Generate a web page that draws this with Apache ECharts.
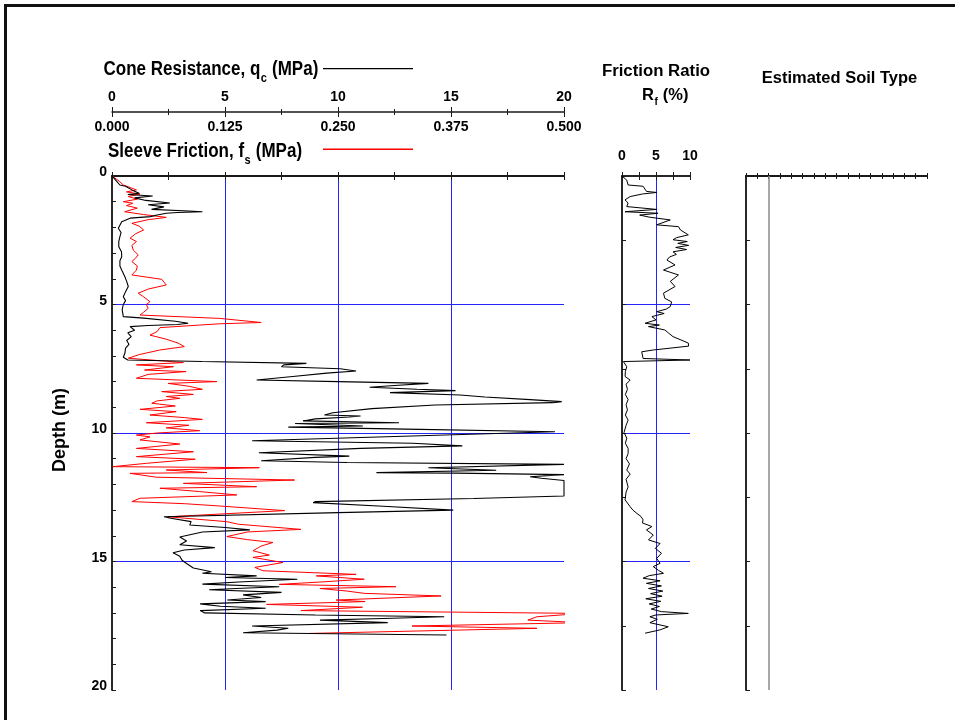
<!DOCTYPE html>
<html>
<head>
<meta charset="utf-8">
<script src="https://cdn.jsdelivr.net/npm/echarts@6/dist/echarts.min.js"></script>
<style>
  html, body { margin: 0; padding: 0; background: #fff; }
  #chart { width: 955px; height: 720px; }
</style>
</head>
<body>
<div id="chart"></div>
<script>
// ---- CPT sounding data (depth in m) ----
const qcDepth = [0.00,0.20,0.35,0.40,0.55,0.67,0.72,0.78,0.85,0.95,1.05,1.12,1.20,1.30,1.36,1.39,1.42,1.45,1.52,1.58,1.64,1.78,2.03,2.20,2.36,2.55,2.75,2.95,3.14,3.30,3.50,3.70,3.92,4.10,4.30,4.50,4.70,4.85,5.00,5.20,5.47,5.53,5.65,5.73,5.78,5.82,5.86,6.00,6.10,6.25,6.40,6.55,6.70,6.90,7.05,7.16,7.22,7.29,7.35,7.42,7.50,7.59,7.67,7.80,7.94,8.00,8.07,8.15,8.22,8.30,8.35,8.43,8.52,8.60,8.70,8.78,8.82,8.91,9.05,9.21,9.30,9.34,9.38,9.45,9.53,9.60,9.63,9.73,9.77,9.85,9.95,10.10,10.30,10.40,10.50,10.60,10.77,10.90,10.95,11.08,11.15,11.22,11.28,11.35,11.45,11.54,11.56,11.62,11.70,11.76,11.85,12.10,12.45,12.55,12.67,12.71,12.85,13.00,13.10,13.26,13.32,13.45,13.58,13.68,13.77,13.85,14.05,14.20,14.35,14.46,14.55,14.66,14.80,14.95,15.08,15.25,15.40,15.46,15.56,15.62,15.69,15.80,15.88,15.98,16.05,16.10,16.20,16.30,16.40,16.50,16.56,16.65,16.74,16.82,16.91,17.00,17.08,17.15,17.22,17.28,17.38,17.51,17.60,17.67,17.77,17.86];
// Cone resistance q_c (MPa)
const qcValue = [0.0,0.2,0.35,0.6,0.9,1.2,0.7,1.8,1.0,1.5,2.56,1.6,2.3,1.75,3.4,4.0,2.9,2.4,2.0,1.7,0.8,0.43,0.28,0.4,0.35,0.3,0.3,0.42,0.43,0.35,0.35,0.45,0.57,0.65,0.72,0.6,0.5,0.6,0.5,0.45,0.5,1.4,2.8,3.37,2.9,1.6,0.8,1.0,0.7,0.85,0.65,0.75,0.6,0.57,0.5,0.7,4.0,8.6,7.6,7.5,10.1,10.8,9.5,8.0,6.4,10.0,14.0,12.5,11.4,13.5,15.2,12.3,15.4,16.5,18.5,19.9,19.5,14.3,11.5,9.77,9.4,11.0,10.5,9.0,8.45,12.7,8.1,11.1,7.8,13.0,19.6,14.0,6.2,13.3,15.5,11.0,6.5,10.5,9.0,6.6,10.4,20.0,20.0,14.0,17.0,11.7,15.2,20.0,18.5,19.0,20.0,20.0,20.0,16.0,9.0,8.9,12.0,15.1,10.0,2.3,2.6,3.5,3.44,5.0,6.1,4.0,3.0,3.3,3.0,4.55,3.2,2.7,3.0,3.1,3.3,3.6,4.4,4.0,6.4,5.0,8.2,5.6,4.0,7.4,5.5,4.3,7.5,5.8,6.6,5.1,6.8,3.9,4.8,6.8,3.9,4.1,9.0,14.7,12.0,9.2,12.2,6.2,7.8,7.3,5.8,14.8];

const fsDepth = [0.00,0.20,0.35,0.54,0.62,0.67,0.70,0.80,0.90,1.00,1.06,1.15,1.25,1.39,1.50,1.61,1.70,1.84,1.95,2.10,2.25,2.42,2.55,2.70,2.88,3.07,3.20,3.33,3.50,3.66,3.85,4.02,4.24,4.40,4.56,4.70,4.89,5.00,5.15,5.30,5.41,5.54,5.70,5.75,5.80,5.90,6.05,6.19,6.35,6.50,6.64,6.77,6.95,7.09,7.26,7.35,7.42,7.55,7.61,7.72,7.87,8.00,8.07,8.18,8.30,8.39,8.50,8.58,8.65,8.75,8.84,8.95,9.08,9.17,9.30,9.40,9.47,9.60,9.70,9.80,9.91,10.00,10.08,10.15,10.27,10.43,10.60,10.73,10.85,10.92,11.02,11.18,11.31,11.35,11.44,11.54,11.57,11.72,11.83,11.96,12.09,12.15,12.28,12.41,12.54,12.67,12.75,12.84,13.02,13.26,13.45,13.55,13.75,13.85,14.03,14.15,14.26,14.40,14.58,14.75,14.84,15.04,15.23,15.36,15.50,15.56,15.69,15.80,15.89,15.98,16.05,16.15,16.24,16.34,16.50,16.56,16.67,16.78,16.91,17.02,17.15,17.28,17.38,17.51,17.60,17.80];
// Sleeve friction f_s (MPa)
const fsValue = [0.000,0.008,0.0125,0.027,0.016,0.014,0.031,0.018,0.028,0.0125,0.023,0.016,0.028,0.014,0.035,0.060,0.040,0.022,0.030,0.035,0.026,0.020,0.027,0.022,0.0235,0.029,0.026,0.022,0.028,0.027,0.022,0.055,0.060,0.040,0.029,0.035,0.042,0.038,0.040,0.035,0.031,0.119,0.165,0.120,0.097,0.053,0.050,0.042,0.060,0.073,0.080,0.053,0.030,0.018,0.079,0.027,0.068,0.036,0.082,0.040,0.027,0.116,0.062,0.085,0.100,0.055,0.090,0.060,0.075,0.050,0.044,0.070,0.031,0.071,0.042,0.080,0.100,0.038,0.085,0.060,0.097,0.050,0.027,0.042,0.031,0.075,0.027,0.090,0.050,0.027,0.092,0.038,0.001,0.163,0.060,0.105,0.020,0.049,0.202,0.079,0.160,0.053,0.097,0.138,0.031,0.022,0.080,0.119,0.191,0.062,0.127,0.140,0.209,0.150,0.127,0.150,0.178,0.165,0.156,0.174,0.156,0.189,0.158,0.167,0.270,0.226,0.279,0.230,0.185,0.314,0.230,0.260,0.279,0.364,0.248,0.280,0.171,0.277,0.209,0.520,0.470,0.460,0.520,0.332,0.470,0.217];

const rfDepth = [0.00,0.16,0.35,0.40,0.60,0.64,0.70,0.80,0.93,1.05,1.19,1.30,1.39,1.45,1.52,1.60,1.71,1.90,1.97,2.10,2.29,2.40,2.48,2.55,2.62,2.70,2.78,2.86,2.95,3.05,3.15,3.27,3.46,3.66,3.85,4.10,4.30,4.56,4.76,4.90,5.08,5.18,5.28,5.35,5.47,5.60,5.73,5.80,5.86,5.99,6.10,6.25,6.50,6.62,6.77,6.84,7.10,7.16,7.22,7.42,7.60,7.80,7.94,8.10,8.30,8.50,8.70,8.90,9.10,9.30,9.50,9.70,9.98,10.20,10.40,10.60,10.80,11.00,11.20,11.44,11.60,11.80,12.10,12.30,12.60,12.87,13.00,13.13,13.25,13.38,13.50,13.64,13.77,13.97,14.16,14.30,14.49,14.68,14.88,15.07,15.20,15.35,15.46,15.55,15.65,15.75,15.85,15.95,16.05,16.15,16.25,16.35,16.45,16.55,16.65,16.75,16.85,16.95,17.02,17.08,17.15,17.25,17.38,17.54,17.66,17.79];
// Friction ratio R_f (%)
const rfValue = [0.0,0.7,0.9,3.1,3.6,5.1,3.0,1.2,0.44,0.9,0.7,5.1,0.44,5.3,2.6,4.0,7.1,5.1,8.3,8.6,9.75,8.0,7.5,9.6,8.2,9.8,7.9,9.5,7.5,8.0,7.0,6.6,7.8,6.1,8.3,7.1,7.8,6.1,6.3,7.3,7.1,6.5,5.1,6.2,4.4,5.0,3.4,5.5,3.9,6.3,6.8,7.5,9.75,9.8,4.6,2.9,3.1,10.0,0.2,0.7,0.5,0.45,1.2,0.6,0.8,0.5,0.9,0.6,0.8,0.5,0.9,0.6,0.3,0.7,0.5,0.9,0.9,0.6,1.1,0.7,1.2,0.6,0.9,0.6,0.45,1.2,1.6,2.2,2.8,3.1,3.0,4.4,3.6,4.6,3.9,5.6,4.9,5.8,5.1,5.6,4.6,5.4,6.1,4.0,3.1,5.6,3.6,5.8,3.9,6.0,4.2,5.9,3.5,5.7,4.0,5.5,4.3,5.8,9.75,5.0,4.1,5.2,4.1,6.8,5.6,3.4];

// Axis ranges
const depthRange = [0, 20];
const qcRange = [0, 20];
const fsRange = [0, 0.5];
const rfRange = [0, 10];
const soilCols = [0, 16];
const soilBoundary = 2;   // soil-type column divider

const BLUE = '#2424ff';
const AXIS = '#1a1a1a';
const RED = '#ff0000';
const FONT = '"Liberation Sans", Arial, sans-serif';

const pairs = (vals, deps) => deps.map((d, i) => [vals[i], d]);

const measureCtx = document.createElement('canvas').getContext('2d');
function textWidth(str, font) { measureCtx.font = font; return measureCtx.measureText(str).width; }

function tickLabel(extra) {
  return Object.assign({ color: '#000', fontFamily: FONT, fontWeight: 'bold', fontSize: 14 }, extra || {});
}
function frameAxis(opts) {
  // plain frame axis: line + ticks, no labels
  return Object.assign({
    type: 'value',
    axisLine: { show: true, lineStyle: { color: AXIS, width: 1.5 } },
    axisTick: { show: true, inside: true, length: 4, lineStyle: { color: AXIS, width: 1 } },
    axisLabel: { show: false },
    splitLine: { show: false }
  }, opts);
}
const blueSplit = { show: true, showMinLine: false, showMaxLine: false, lineStyle: { color: BLUE, width: 1 } };

const chart = echarts.init(document.getElementById('chart'), null, { renderer: 'canvas' });

// subscripted title helper
function subTitle(x, y, scaleX, main, sub, tail, size, subSize, subDy) {
  const f = 'bold ' + size + 'px ' + FONT;
  const fs = 'bold ' + subSize + 'px ' + FONT;
  const w1 = textWidth(main, f);
  const w2 = textWidth(sub, fs);
  const mk = (t, px, py, font) => ({
    type: 'text', x: px, y: py,
    style: { text: t, font: font, fill: '#000', textAlign: 'left', textVerticalAlign: 'middle', align: 'left', verticalAlign: 'middle' }
  });
  return {
    type: 'group', x: x, y: 0, scaleX: scaleX, scaleY: 1,
    children: [mk(main, 0, y, f), mk(sub, w1 + 0.5, y + subDy, fs), mk(tail, w1 + w2 + 1, y, f)]
  };
}

const option = {
  animation: false,
  backgroundColor: '#fff',
  grid: [
    { left: 112, top: 176, width: 452, height: 514, containLabel: false, outerBoundsMode: 'none' },
    { left: 112, top: 111, width: 452, height: 1, containLabel: false, outerBoundsMode: 'none' },
    { left: 622, top: 176, width: 68, height: 514, containLabel: false, outerBoundsMode: 'none' },
    { left: 746, top: 176, width: 181, height: 514, containLabel: false, outerBoundsMode: 'none' }
  ],
  xAxis: [
    frameAxis({ gridIndex: 0, position: 'bottom', min: qcRange[0], max: qcRange[1], interval: 5,
      minorTick: { show: true, splitNumber: 2, length: 4, lineStyle: { color: AXIS } }, splitLine: blueSplit }),
    frameAxis({ gridIndex: 0, position: 'top', min: fsRange[0], max: fsRange[1], interval: 0.125,
      axisLine: { show: true, lineStyle: { color: AXIS, width: 2 } },
      minorTick: { show: true, splitNumber: 2, length: 4, lineStyle: { color: AXIS } } }),
    frameAxis({ gridIndex: 1, position: 'top', min: qcRange[0], max: qcRange[1], interval: 5,
      axisTick: { show: true, inside: false, length: 5, lineStyle: { color: AXIS } },
      minorTick: { show: true, splitNumber: 2, length: 3, lineStyle: { color: AXIS } },
      axisLabel: tickLabel({ show: true, margin: 7, showMinLabel: true, showMaxLabel: true }) }),
    frameAxis({ gridIndex: 1, position: 'bottom', min: fsRange[0], max: fsRange[1], interval: 0.125,
      axisLine: { show: false },
      axisTick: { show: true, inside: false, length: 5, lineStyle: { color: AXIS } },
      minorTick: { show: true, splitNumber: 2, length: 3, lineStyle: { color: AXIS } },
      axisLabel: tickLabel({ show: true, margin: 8, showMinLabel: true, showMaxLabel: true, formatter: v => v.toFixed(3) }) }),
    frameAxis({ gridIndex: 2, position: 'top', min: rfRange[0], max: rfRange[1], interval: 5,
      minorTick: { show: true, splitNumber: 2, length: 4, lineStyle: { color: AXIS } },
      axisLabel: tickLabel({ show: true, margin: 13, showMinLabel: true, showMaxLabel: true }),
      splitLine: blueSplit }),
    frameAxis({ gridIndex: 2, position: 'bottom', min: rfRange[0], max: rfRange[1], interval: 5,
      minorTick: { show: true, splitNumber: 2, length: 4, lineStyle: { color: AXIS } } }),
    frameAxis({ gridIndex: 3, position: 'top', min: soilCols[0], max: soilCols[1], interval: 1,
      axisLine: { show: true, lineStyle: { color: AXIS, width: 2 } },
      axisTick: { show: true, inside: true, length: 3, lineStyle: { color: AXIS } } }),
    frameAxis({ gridIndex: 3, position: 'bottom', min: soilCols[0], max: soilCols[1], interval: 1,
      axisLine: { show: true, lineStyle: { color: AXIS, width: 2 } },
      axisTick: { show: true, inside: true, length: 3, lineStyle: { color: AXIS } } })
  ],
  yAxis: [
    frameAxis({ gridIndex: 0, position: 'left', inverse: true, min: depthRange[0], max: depthRange[1], interval: 5,
      minorTick: { show: true, splitNumber: 5, length: 4, lineStyle: { color: AXIS } },
      axisLabel: tickLabel({ show: true, margin: 5, verticalAlign: 'bottom', lineHeight: 7, showMinLabel: true, showMaxLabel: true }),
      splitLine: blueSplit }),
    frameAxis({ gridIndex: 0, position: 'right', inverse: true, min: depthRange[0], max: depthRange[1], interval: 5,
      axisTick: { show: true, inside: false, length: 4, lineStyle: { color: AXIS } },
      minorTick: { show: true, splitNumber: 5, length: 4, lineStyle: { color: AXIS } } }),
    { type: 'value', gridIndex: 1, show: false, min: 0, max: 1 },
    frameAxis({ gridIndex: 2, position: 'left', inverse: true, min: depthRange[0], max: depthRange[1], interval: 5,
      minorTick: { show: true, splitNumber: 2, length: 4, lineStyle: { color: AXIS } },
      splitLine: blueSplit }),
    frameAxis({ gridIndex: 2, position: 'right', inverse: true, min: depthRange[0], max: depthRange[1], interval: 5,
      axisTick: { show: true, inside: false, length: 4, lineStyle: { color: AXIS } },
      minorTick: { show: true, splitNumber: 2, length: 4, lineStyle: { color: AXIS } } }),
    frameAxis({ gridIndex: 3, position: 'left', inverse: true, min: depthRange[0], max: depthRange[1], interval: 2.5 }),
    frameAxis({ gridIndex: 3, position: 'right', inverse: true, min: depthRange[0], max: depthRange[1], interval: 2.5,
      axisTick: { show: true, inside: false, length: 4, lineStyle: { color: AXIS } } })
  ],
  series: [
    { name: 'Sleeve Friction', type: 'line', xAxisIndex: 1, yAxisIndex: 0, data: pairs(fsValue, fsDepth),
      showSymbol: false, symbol: 'none', silent: true, clip: true, lineStyle: { color: RED, width: 1 } },
    { name: 'Cone Resistance', type: 'line', xAxisIndex: 0, yAxisIndex: 0, data: pairs(qcValue, qcDepth),
      showSymbol: false, symbol: 'none', silent: true, clip: true, lineStyle: { color: '#000', width: 1.1 } },
    { name: 'Friction Ratio', type: 'line', xAxisIndex: 4, yAxisIndex: 3, data: pairs(rfValue, rfDepth),
      showSymbol: false, symbol: 'none', silent: true, clip: true, lineStyle: { color: '#000', width: 1 } },
    { name: 'Soil Type', type: 'line', xAxisIndex: 6, yAxisIndex: 5, data: [], silent: true,
      markLine: { silent: true, symbol: 'none', animation: false, label: { show: false },
        lineStyle: { color: '#8a8a8a', type: 'solid', width: 1.5 },
        data: [{ xAxis: soilBoundary }] } }
  ],
  graphic: [
    { type: 'rect', shape: { x: 5.5, y: 5.5, width: 1000, height: 800 },
      style: { fill: 'none', stroke: '#111', lineWidth: 3 }, silent: true, z: 100 },
    subTitle(103.5, 69, 0.85, 'Cone Resistance, q', 'c', ' (MPa)', 20, 13, 9),
    subTitle(108, 151, 0.85, 'Sleeve Friction, f', 's', ' (MPa)', 20, 13, 9),
    // legend line samples
    { type: 'rect', shape: { x: 323, y: 68, width: 90, height: 1.2 }, style: { fill: '#000', stroke: null }, silent: true, z: 50 },
    { type: 'rect', shape: { x: 323, y: 148.5, width: 90, height: 1.6 }, style: { fill: RED, stroke: null }, silent: true, z: 50 },
    { type: 'text', x: 656, y: 71,
      style: { text: 'Friction Ratio', font: 'bold 16.8px ' + FONT, fill: '#000', textAlign: 'center', textVerticalAlign: 'middle', align: 'center', verticalAlign: 'middle' } },
    subTitle(642, 95, 1, 'R', 'f', ' (%)', 16.5, 10, 7),
    { type: 'text', x: 839.5, y: 78,
      style: { text: 'Estimated Soil Type', font: 'bold 16.5px ' + FONT, fill: '#000', textAlign: 'center', textVerticalAlign: 'middle', align: 'center', verticalAlign: 'middle' } },
    { type: 'text', x: 60, y: 430, rotation: Math.PI / 2,
      style: { text: 'Depth (m)', font: 'bold 18px ' + FONT, fill: '#000', textAlign: 'center', textVerticalAlign: 'middle', align: 'center', verticalAlign: 'middle' } }
  ]
};

chart.setOption(option);
</script>
</body>
</html>
